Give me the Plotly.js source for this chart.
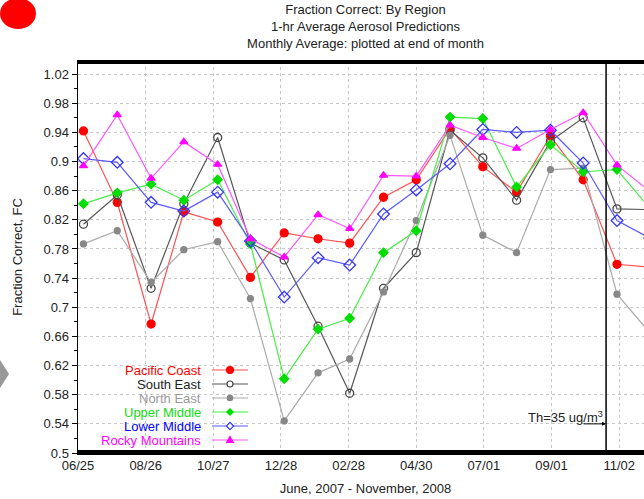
<!DOCTYPE html>
<html>
<head>
<meta charset="utf-8">
<script src="https://cdn.plot.ly/plotly-3.0.1.min.js"></script>
<style>
  html, body { margin: 0; padding: 0; overflow: hidden; background: #fff; }
  #chart { width: 700px; height: 499px; }
</style>
</head>
<body>
<div id="chart"></div>
<script>
// ---- data (monthly averages, plotted at end of month) ----
const months = ['2007-06-30','2007-07-31','2007-08-31','2007-09-30','2007-10-31','2007-11-30',
                '2007-12-31','2008-01-31','2008-02-29','2008-03-31','2008-04-30','2008-05-31',
                '2008-06-30','2008-07-31','2008-08-31','2008-09-30','2008-10-31','2008-11-30'];
const pacificCoast   = [0.942,0.844,0.677,0.831,0.817,0.741,0.802,0.794,0.788,0.851,0.875,0.945,0.893,0.858,0.935,0.875,0.759,0.755];
const southEast      = [0.814,0.854,0.726,0.842,0.933,0.788,0.765,0.674,0.582,0.726,0.775,0.943,0.905,0.847,0.928,0.960,0.835,0.834];
const northEast      = [0.787,0.805,0.734,0.779,0.790,0.712,0.544,0.610,0.629,0.721,0.819,0.936,0.799,0.775,0.889,0.891,0.718,0.665];
const upperMiddle    = [0.842,0.857,0.869,0.847,0.875,0.787,0.602,0.670,0.685,0.775,0.805,0.961,0.959,0.865,0.923,0.886,0.889,0.836];
const lowerMiddle    = [0.904,0.899,0.844,0.832,0.858,0.791,0.714,0.768,0.758,0.828,0.861,0.897,0.944,0.940,0.943,0.898,0.819,0.795];
const rockyMountains = [0.894,0.964,0.877,0.927,0.896,0.794,0.769,0.827,0.808,0.881,0.880,0.950,0.933,0.918,0.944,0.967,0.895,0.859];

const seriesNames = ['Pacific Coast','South East','North East','Upper Middle','Lower Middle','Rocky Mountains'];
const xTickVals = ['2007-06-25','2007-08-26','2007-10-27','2007-12-28','2008-02-28','2008-04-30','2008-07-01','2008-09-01','2008-11-02'];
const xTickText = ['06/25','08/26','10/27','12/28','02/28','04/30','07/01','09/01','11/02'];
const yTickVals = [0.5,0.54,0.58,0.62,0.66,0.7,0.74,0.78,0.82,0.86,0.9,0.94,0.98,1.02];
const yTickText = ['0.5','0.54','0.58','0.62','0.66','0.7','0.74','0.78','0.82','0.86','0.9','0.94','0.98','1.02'];
const thresholdDate = '2008-10-21';
const thresholdLabel = 'Th=35 ug/m<sup>3</sup>';

// ---- series styles ----
const values = [pacificCoast, southEast, northEast, upperMiddle, lowerMiddle, rockyMountains];
const styles = [
  {text:'#ff0000', line:'#ff5050', mcol:'#ff0000', sym:'circle',       size:8, kind:'dot',   r:3.5, open:false},
  {text:'#222222', line:'#555555', mcol:'#444444', sym:'circle-open',  size:8, kind:'dot',   r:3,   open:true},
  {text:'#999999', line:'#aaaaaa', mcol:'#888888', sym:'circle',       size:6, kind:'dot',   r:2.7, open:false},
  {text:'#11dd11', line:'#44ee44', mcol:'#00dd00', sym:'diamond',      size:7, kind:'diam',  r:3.2, open:false},
  {text:'#0000ff', line:'#5a5aff', mcol:'#3333ff', sym:'diamond-open', size:9, kind:'diam',  r:3.6, open:true},
  {text:'#ff00ff', line:'#ff55ff', mcol:'#ff00ff', sym:'triangle-up',  size:7, kind:'tri',   r:3.3, open:false}
];

const traces = values.map((v, i) => ({
  type:'scatter', mode:'lines+markers', x:months, y:v, name:seriesNames[i], showlegend:false,
  line:{color:styles[i].line, width:1.2},
  marker:{symbol:styles[i].sym, size:styles[i].size, color:styles[i].mcol, line:{color:styles[i].mcol, width:1.3}},
  hoverinfo:'x+y'
}));

const font = 'Liberation Sans, Arial, sans-serif';
const L = 78, W = 700, R = 47, T = 61, B = 46, H = 499;
const pw = W - L - R, ph = H - T - B;
const px = v => (v - L) / pw;
const py = v => (H - B - v) / ph;

// ---- legend drawn in the gnuplot style: right-aligned text, sample on the right ----
const legRow0 = 370, legStep = 14, legTextRight = 203, legLine0 = 212, legLine1 = 248, legMark = 230;
const shapes = [
  {type:'line', xref:'x', yref:'paper', x0:thresholdDate, x1:thresholdDate, y0:0, y1:1, line:{color:'#000', width:1.5}},
  {type:'circle', xref:'paper', yref:'paper', x0:px(0), x1:px(36), y0:py(29), y1:py(-2), fillcolor:'#ff0000', line:{width:0}},
  {type:'path', xref:'paper', yref:'paper',
   path:'M '+px(0)+' '+py(360)+' L '+px(9)+' '+py(374)+' L '+px(0)+' '+py(388)+' Z',
   fillcolor:'#999', line:{width:0}},
  {type:'rect', xref:'paper', yref:'paper', layer:'between', x0:px(99), x1:px(252), y0:py(448), y1:py(362),
   fillcolor:'#fff', line:{width:0}}
];
const annotations = [
  {x:thresholdDate, y:0.54, xref:'x', yref:'y', text:'', showarrow:true, arrowhead:2, arrowsize:0.8,
   arrowwidth:1, arrowcolor:'#000', ax:-24, ay:0, standoff:0},
  {x:thresholdDate, y:0.549, xref:'x', yref:'y', text:thresholdLabel, showarrow:false,
   xanchor:'right', yanchor:'middle', xshift:-1, font:{family:font, size:13, color:'#222'}}
];
seriesNames.forEach((n, i) => {
  const s = styles[i];
  const yy = py(legRow0 + i * legStep);
  annotations.push({x:px(legTextRight), y:yy, xref:'paper', yref:'paper', text:n, showarrow:false,
    xanchor:'right', yanchor:'middle', font:{family:font, size:13, color:s.text}});
  shapes.push({type:'line', xref:'paper', yref:'paper', layer:'above', x0:px(legLine0), x1:px(legLine1), y0:yy, y1:yy,
    line:{color:s.line, width:1.2}});
  const base = {xref:'paper', yref:'paper', layer:'above', xsizemode:'pixel', ysizemode:'pixel',
    xanchor:px(legMark), yanchor:yy,
    fillcolor: s.open ? '#fff' : s.mcol, line:{color:s.mcol, width:1.2}};
  const r = s.r;
  if (s.kind === 'dot') {
    shapes.push(Object.assign({type:'circle', x0:-r, x1:r, y0:-r, y1:r}, base));
  } else if (s.kind === 'diam') {
    shapes.push(Object.assign({type:'path', path:'M 0 '+(-r)+' L '+r+' 0 L 0 '+r+' L '+(-r)+' 0 Z'}, base));
  } else {
    shapes.push(Object.assign({type:'path', path:'M '+(-r)+' '+(-r*0.75)+' L '+r+' '+(-r*0.75)+' L 0 '+(r*1.05)+' Z'}, base));
  }
});

const layout = {
  width: W, height: H,
  margin: {l:L, r:R, t:T, b:B, pad:0},
  paper_bgcolor:'#fff', plot_bgcolor:'#fff',
  font: {family:font, size:13, color:'#222'},
  title: {
    text:'Fraction Correct: By Region<br>1-hr Average Aerosol Predictions<br>Monthly Average: plotted at end of month',
    font:{family:font, size:13, color:'#222'},
    x:0.5, xref:'paper', xanchor:'center', y:0.971, yref:'container', yanchor:'top'
  },
  xaxis: {
    type:'date', range:['2007-06-25','2008-12-03'],
    tickmode:'array', tickvals:xTickVals, ticktext:xTickText,
    showgrid:true, gridcolor:'#c8c8c8', griddash:'dot', gridwidth:1,
    showline:true, linecolor:'#000', linewidth:1.5, mirror:'allticks',
    ticks:'inside', ticklen:3, tickcolor:'#000', tickwidth:1.5,
    minor:{dtick:86400000, tick0:'2007-06-25', ticks:'inside', ticklen:3, tickcolor:'#000', tickwidth:1.5, showgrid:false},
    tickfont:{family:font, size:13, color:'#222'},
    zeroline:false,
    title:{text:'June, 2007 - November, 2008', font:{family:font, size:13, color:'#222'}, standoff:12}
  },
  yaxis: {
    range:[0.5, 1.038],
    tickmode:'array', tickvals:yTickVals, ticktext:yTickText,
    showgrid:true, gridcolor:'#c8c8c8', griddash:'dot', gridwidth:1,
    showline:true, linecolor:'#000', linewidth:1.5,
    ticks:'outside', ticklen:5, tickcolor:'#000',
    minor:{dtick:0.02, tick0:0.5, ticks:'outside', ticklen:3, tickcolor:'#000', showgrid:false},
    tickfont:{family:font, size:13, color:'#222'},
    zeroline:false,
    title:{text:'Fraction Correct, FC', font:{family:font, size:13, color:'#222'}, standoff:18}
  },
  showlegend:false,
  shapes: shapes,
  annotations: annotations
};

Plotly.newPlot('chart', traces, layout, {displayModeBar:false, staticPlot:true});
</script>
</body>
</html>
